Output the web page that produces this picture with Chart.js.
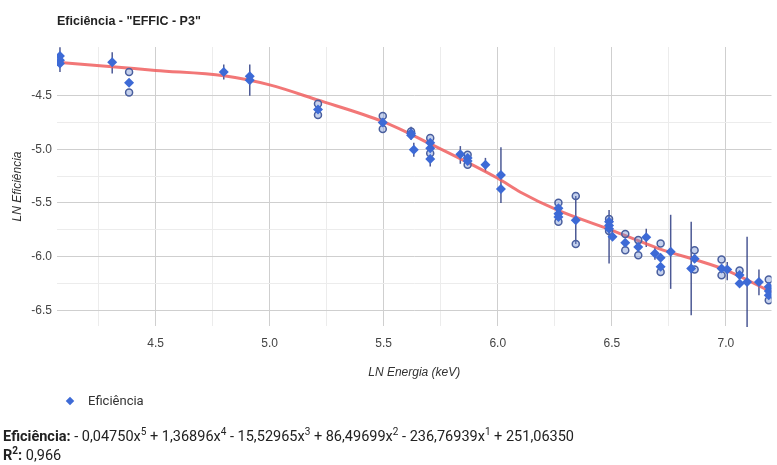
<!DOCTYPE html>
<html>
<head>
<meta charset="utf-8">
<script src="https://cdn.jsdelivr.net/npm/chart.js@4"></script>
<style>
  body { margin:0; background:#fff; font-family:"Liberation Sans", Arial, sans-serif; }
  #wrap { position:relative; width:777px; height:465px; overflow:hidden; }
  #c { position:absolute; left:0; top:0; }
  #title { position:absolute; left:57px; top:14px; font-weight:bold; font-size:12.5px; color:#222; white-space:nowrap; }
  #legend { position:absolute; left:67px; top:393px; font-size:13px; color:#333; white-space:nowrap; font-family:Roboto, "Liberation Sans", sans-serif; }
  #legend .dia { display:inline-block; width:6px; height:6px; background:#3d6ad6; transform:rotate(45deg); margin-right:15px; position:relative; top:-1px; }
  #eq { position:absolute; left:3px; top:427px; font-size:14.5px; color:#222; white-space:nowrap; font-family:Roboto, "Liberation Sans", sans-serif; line-height:19px; }
  #eq sup { font-size:10px; line-height:0; }
</style>
</head>
<body>
<div id="wrap">
  <canvas id="c" width="777" height="465"></canvas>
  <div id="title">Eficiência - "EFFIC - P3"</div>
  <div id="legend"><span class="dia"></span>Eficiência</div>
  <div id="eq"><b>Eficiência:</b> - 0,04750x<sup>5</sup> + 1,36896x<sup>4</sup> - 15,52965x<sup>3</sup> + 86,49699x<sup>2</sup> - 236,76939x<sup>1</sup> + 251,06350<br><b>R<sup>2</sup>:</b> 0,966</div>
</div>
<script>
// Measured points (diamonds)
const energy = [4.081,4.081,4.081,4.310,4.384,4.799,4.913,4.913,5.212,5.496,5.620,5.620,5.632,5.704,5.704,5.704,5.836,5.868,5.868,5.946,6.014,6.014,6.266,6.266,6.266,6.342,6.488,6.488,6.488,6.503,6.559,6.616,6.651,6.689,6.714,6.714,6.758,6.848,6.863,6.981,7.006,7.060,7.060,7.093,7.145,7.188,7.188,7.188];
const efficiency = [-4.13,-4.17,-4.20,-4.19,-4.38,-4.28,-4.32,-4.357,-4.63,-4.75,-4.85,-4.87,-5.005,-4.94,-4.99,-5.09,-5.045,-5.08,-5.11,-5.145,-5.24,-5.37,-5.55,-5.60,-5.63,-5.66,-5.675,-5.71,-5.74,-5.815,-5.87,-5.91,-5.82,-5.97,-6.01,-6.095,-5.955,-6.11,-6.02,-6.11,-6.12,-6.17,-6.25,-6.235,-6.235,-6.28,-6.32,-6.36];
// Error bars (interval ends) for each point, null = none
const errLow  = [-4.28,null,null,-4.295,null,-4.35,-4.50,null,null,null,-4.91,null,-5.07,null,null,-5.16,-5.135,null,null,-5.21,-5.50,null,null,null,null,-5.883,-6.064,null,null,null,null,null,-5.91,-6.03,null,null,-6.30,-6.547,null,null,-6.22,null,null,-6.656,-6.36,null,null,null];
const errHigh = [-4.05,null,null,-4.095,null,-4.21,-4.21,null,null,null,-4.79,null,-4.94,null,null,-5.05,-4.97,null,null,-5.08,-4.98,null,null,null,null,-5.435,-5.565,null,null,null,null,null,-5.74,-5.91,null,null,-5.61,-5.675,null,null,-6.05,null,null,-5.815,-6.12,null,null,null];
// Interval markers (circles)
const markerX = [4.384,4.384,5.212,5.212,5.496,5.496,5.620,5.704,5.704,5.868,5.868,6.266,6.266,6.342,6.342,6.488,6.488,6.559,6.559,6.616,6.616,6.714,6.714,6.863,6.863,6.981,6.981,7.060,7.188,7.188];
const markerY = [-4.28,-4.47,-4.575,-4.68,-4.69,-4.81,-4.835,-4.895,-5.036,-5.05,-5.145,-5.497,-5.675,-5.435,-5.883,-5.65,-5.76,-5.79,-5.94,-5.846,-5.986,-5.877,-6.142,-5.94,-6.12,-6.026,-6.173,-6.13,-6.213,-6.407];
// Trendline
const fitX = [4.068,4.31,4.5,4.8,5.0,5.21,5.5,5.7,6.0,6.1,6.26,6.5,6.7,7.0,7.2];
const fitY = [-4.19,-4.23,-4.265,-4.315,-4.40,-4.54,-4.745,-4.945,-5.27,-5.40,-5.565,-5.755,-5.92,-6.125,-6.33];
// Ticks
const xTicks = [4.25,4.5,4.75,5.0,5.25,5.5,5.75,6.0,6.25,6.5,6.75,7.0];
const yTicks = [-6.5,-6.25,-6.0,-5.75,-5.5,-5.25,-5.0,-4.75,-4.5];

const isMajor = v => Math.abs(v*2 - Math.round(v*2)) < 1e-9;

const errorBars = {
  id: 'errorBars',
  beforeDatasetsDraw(chart) {
    const {ctx, scales:{x, y}} = chart;
    ctx.save();
    ctx.strokeStyle = 'rgba(45,60,130,0.85)';
    ctx.lineWidth = 1.5;
    energy.forEach((e, i) => {
      if (errLow[i] == null) return;
      const px = x.getPixelForValue(e);
      ctx.beginPath();
      ctx.moveTo(px, y.getPixelForValue(errLow[i]));
      ctx.lineTo(px, y.getPixelForValue(errHigh[i]));
      ctx.stroke();
    });
    ctx.restore();
  }
};

const tickFont = {family:'"Liberation Sans", Arial, sans-serif', size:12};
const axisTitleFont = {family:'"Liberation Sans", Arial, sans-serif', size:12, style:'italic'};

new Chart(document.getElementById('c'), {
  type: 'scatter',
  data: {
    datasets: [
      {
        label: 'Eficiência',
        data: energy.map((e,i)=>({x:e, y:efficiency[i]})),
        pointStyle: 'rectRot',
        pointRadius: 5,
        backgroundColor: '#3d6ad6',
        borderColor: '#3d6ad6',
        borderWidth: 0,
        order: 1
      },
      {
        label: 'intervals',
        data: markerX.map((e,i)=>({x:e, y:markerY[i]})),
        pointStyle: 'circle',
        pointRadius: 3.5,
        backgroundColor: 'rgba(110,140,210,0.4)',
        borderColor: '#4a5f9e',
        borderWidth: 1.5,
        order: 2
      },
      {
        type: 'line',
        label: 'trend',
        data: fitX.map((e,i)=>({x:e, y:fitY[i]})),
        borderColor: 'rgba(240,95,95,0.85)',
        borderWidth: 3,
        pointRadius: 0,
        fill: false,
        cubicInterpolationMode: 'monotone',
        order: 3
      }
    ]
  },
  options: {
    responsive: false,
    animation: false,
    layout: { padding: { left:0, top:47, right:4, bottom:85 } },
    plugins: { legend: {display:false}, tooltip: {enabled:false}, title:{display:false} },
    scales: {
      x: {
        type: 'linear',
        min: 4.068, max: 7.2,
        afterBuildTicks: s => { s.ticks = xTicks.map(v=>({value:v})); },
        afterFit: s => { s.height = 54; },
        grid: { drawTicks:false, color: c => isMajor(c.tick.value) ? '#cfcfcf' : '#ececec', lineWidth:1 },
        border: { display:false },
        ticks: { padding: 10, color:'#444', font: tickFont, autoSkip:false, maxRotation:0,
                 callback: v => isMajor(v) ? v.toFixed(1) : '' },
        title: { display:true, text:'LN Energia (keV)', color:'#333', font: axisTitleFont, padding:{top:0,bottom:0} }
      },
      y: {
        type: 'linear',
        min: -6.646, max: -4.047,
        afterBuildTicks: s => { s.ticks = yTicks.map(v=>({value:v})); },
        afterFit: s => { s.width = 57; },
        grid: { drawTicks:false, color: c => isMajor(c.tick.value) ? '#cfcfcf' : '#ececec', lineWidth:1 },
        border: { display:false },
        ticks: { padding: 5, color:'#444', font: tickFont, autoSkip:false,
                 callback: v => isMajor(v) ? v.toFixed(1) : '' },
        title: { display:true, text:'LN Eficiência', color:'#333', font: axisTitleFont, padding:{top:10,bottom:0} }
      }
    }
  },
  plugins: [errorBars]
});
</script>
</body>
</html>
